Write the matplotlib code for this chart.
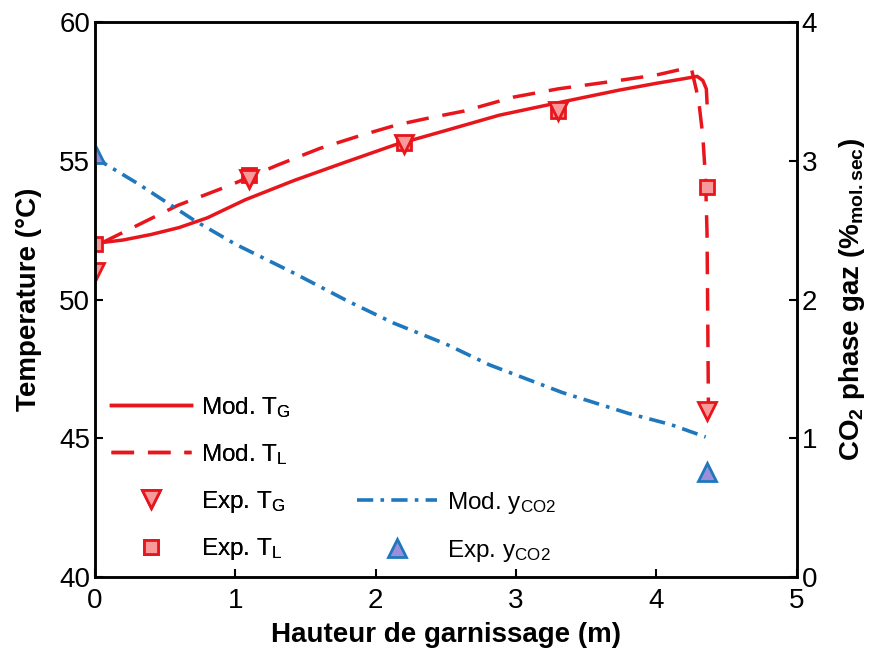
import numpy as np
import matplotlib
matplotlib.use("Agg")
import matplotlib.pyplot as plt

plt.rcParams['font.family'] = ['Liberation Sans', 'DejaVu Sans']
plt.rcParams['mathtext.fontset'] = 'custom'
plt.rcParams['mathtext.rm'] = 'Liberation Sans'
plt.rcParams['mathtext.it'] = 'Liberation Sans'
plt.rcParams['mathtext.bf'] = 'Liberation Sans:bold'
plt.rcParams['mathtext.default'] = 'regular'

# model T_G (solid)
xg = [0, 0.2, 0.4, 0.6, 0.8, 1.07, 1.42, 1.78, 2.13, 2.5, 2.88, 3.3, 3.73, 4.0, 4.2, 4.29, 4.33, 4.355, 4.36]
tg = [52.03, 52.15, 52.35, 52.6, 52.95, 53.6, 54.3, 54.95, 55.57, 56.1, 56.65, 57.1, 57.55, 57.8, 57.97, 58.05, 57.9, 57.6, 57.1]

# model T_L (dashed)
xl = [0.05, 0.19, 0.59, 0.95, 1.3, 1.6, 1.88, 2.15, 2.38, 2.63, 2.98, 3.3, 3.73, 4.0, 4.2, 4.25, 4.3, 4.33, 4.35, 4.36, 4.365, 4.37]
tl = [52.05, 52.4, 53.4, 54.1, 54.85, 55.45, 55.9, 56.3, 56.55, 56.8, 57.3, 57.6, 57.9, 58.1, 58.33, 58.3, 57.2, 55.9, 54.3, 52.4, 49.4, 46.0]

# model y_CO2 (dash-dot, right axis)
xc = [0, 0.07, 0.3, 0.71, 1.0, 1.42, 1.8, 2.13, 2.5, 2.81, 3.33, 3.8, 4.1, 4.35]
yc = [3.05, 2.98, 2.84, 2.57, 2.40, 2.19, 1.99, 1.83, 1.68, 1.53, 1.33, 1.18, 1.10, 1.01]

# experiments
x_exp = [0, 1.1, 2.2, 3.3, 4.36]
tg_exp = [51.0, 54.35, 55.6, 56.8, 46.0]
tl_exp = [52.0, 54.5, 55.65, 56.8, 54.05]
xc_exp = [0, 4.36]
yc_exp = [3.05, 0.76]

red = '#e8161c'
pink = '#f99a9a'
blue = '#1f78bd'
purple = '#9a8fd8'

fig = plt.figure(figsize=(8.69, 6.55), dpi=100)
ax = fig.add_axes([0.1093, 0.119, 0.8077, 0.847])
ax2 = ax.twinx()

l1, = ax.plot(xg, tg, '-', color=red, lw=2.5)
l2, = ax.plot(xl, tl, '--', color=red, lw=2.5, dashes=(6.5, 4))
m2, = ax.plot(x_exp, tl_exp, 's', ms=10, mfc=pink, mec=red, mew=2, ls='none')
m1, = ax.plot(x_exp, tg_exp, 'v', ms=13, mfc=pink, mec=red, mew=2, ls='none')
l3, = ax2.plot(xc, yc, color=blue, lw=2.6, dashes=(4.5, 2, 1, 2))
m3, = ax2.plot(xc_exp, yc_exp, '^', ms=13, mfc=purple, mec=blue, mew=2, ls='none')

ax.set_xlim(0, 5)
ax.set_ylim(40, 60)
ax2.set_ylim(0, 4)
ax.set_xticks(range(6))
ax.set_yticks([40, 45, 50, 55, 60])
ax2.set_yticks([0, 1, 2, 3, 4])

for a in (ax, ax2):
    a.tick_params(direction='in', length=6, width=1.5, labelsize=20)
    for s in a.spines.values():
        s.set_linewidth(1.8)
ax.tick_params(axis='x', pad=8)

ax.set_xlabel('Hauteur de garnissage (m)', fontsize=20, fontweight='bold', labelpad=6)
ax.set_ylabel('Temperature (°C)', fontsize=20, fontweight='bold', labelpad=12)
ax2.set_ylabel(r'CO$_\mathbf{2}$ phase gaz (%$_\mathbf{mol.sec}$)', fontsize=20,
               fontweight='bold', labelpad=14)

leg1 = ax.legend([l1, l2, m1, m2],
                 [r'Mod. T$_G$', r'Mod. T$_L$', r'Exp. T$_G$', r'Exp. T$_L$'],
                 loc='upper left', bbox_to_anchor=(111 / 869, 1 - 395 / 655),
                 bbox_transform=fig.transFigure, frameon=False, fontsize=17.5,
                 handlelength=3.3, handletextpad=0.4, labelspacing=0.9,
                 borderpad=0, borderaxespad=0)
ax.add_artist(leg1)
leg2 = ax2.legend([l3, m3], [r'Mod. y$_{CO2}$', r'Exp. y$_{CO2}$'],
                  loc='upper left', bbox_to_anchor=(357 / 869, 1 - 490 / 655),
                  bbox_transform=fig.transFigure, frameon=False, fontsize=17.5,
                  handlelength=3.3, handletextpad=0.4, labelspacing=0.9,
                  borderpad=0, borderaxespad=0)

fig.savefig('out.png', dpi=100)
